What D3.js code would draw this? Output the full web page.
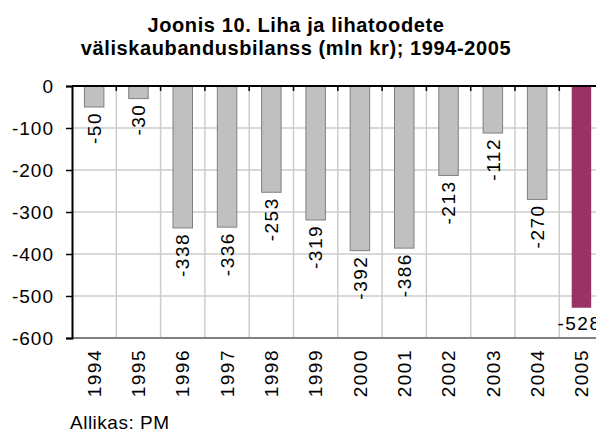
<!DOCTYPE html>
<html>
<head>
<meta charset="utf-8">
<script src="https://cdn.jsdelivr.net/npm/d3@7"></script>
<style>
body { margin: 0; background: #fff; }
svg text { font-family: "Liberation Sans", Arial, sans-serif; fill: #000; }
</style>
</head>
<body>
<script>
// Liha ja lihatoodete väliskaubandusbilanss, mln kr
const years = ["1994", "1995", "1996", "1997", "1998", "1999", "2000", "2001", "2002", "2003", "2004", "2005"];
const balance = [-50, -30, -338, -336, -253, -319, -392, -386, -213, -112, -270, -528];
const yTicks = [0, -100, -200, -300, -400, -500, -600];
const titleLines = ["Joonis 10. Liha ja lihatoodete", "väliskaubandusbilanss (mln kr); 1994-2005"];
const source = "Allikas: PM";

function draw() {
const width = 596;
const height = 434;
const left = 72, top = 86, bottom = 338;
const step = 44.3;

const svg = d3.select("body")
	.append("svg")
	.attr("width", width)
	.attr("height", height);

const x = d3.scaleBand()
	.domain(years)
	.range([left, left + step * years.length])
	.paddingInner(0.56)
	.paddingOuter(0.28);

const y = d3.scaleLinear()
	.domain([-600, 0])
	.range([bottom, top]);

// title
svg.selectAll("text.title")
	.data(titleLines)
	.enter()
	.append("text")
	.attr("class", "title")
	.attr("x", 296)
	.attr("y", (d, i) => 32 + i * 23)
	.attr("text-anchor", "middle")
	.style("font-size", "20px")
	.style("letter-spacing", "0.6px")
	.style("font-weight", "bold")
	.text(d => d);

// grid
const bounds = years.map(d => x(d) - x.step() * 0.28);
bounds.push(left + step * years.length);

svg.append("g")
	.selectAll("line")
	.data(yTicks.filter(d => d < 0 && d > -600))
	.enter()
	.append("line")
	.attr("x1", left).attr("x2", width)
	.attr("y1", d => y(d)).attr("y2", d => y(d))
	.attr("stroke", "#cccccc").attr("stroke-width", 1.5);

svg.append("g")
	.selectAll("line")
	.data(bounds.slice(1))
	.enter()
	.append("line")
	.attr("x1", d => d).attr("x2", d => d)
	.attr("y1", top).attr("y2", bottom)
	.attr("stroke", "#cccccc").attr("stroke-width", 1.5);

// bars
svg.append("g")
	.selectAll("rect")
	.data(balance)
	.enter()
	.append("rect")
	.attr("x", (d, i) => x(years[i]))
	.attr("y", y(0))
	.attr("width", x.bandwidth())
	.attr("height", d => y(d) - y(0))
	.attr("fill", (d, i) => i === years.length - 1 ? "#993366" : "#c0c0c0")
	.attr("stroke", (d, i) => i === years.length - 1 ? "none" : "#808080")
	.attr("stroke-width", 1);

// bottom line
svg.append("line")
	.attr("x1", left).attr("x2", width)
	.attr("y1", bottom).attr("y2", bottom)
	.attr("stroke", "#808080").attr("stroke-width", 2);

// zero line with ticks
svg.append("line")
	.attr("x1", left).attr("x2", width)
	.attr("y1", y(0)).attr("y2", y(0))
	.attr("stroke", "#000").attr("stroke-width", 2);

svg.append("g")
	.selectAll("line")
	.data(bounds.slice(1))
	.enter()
	.append("line")
	.attr("x1", d => d).attr("x2", d => d)
	.attr("y1", y(0)).attr("y2", y(0) + 5)
	.attr("stroke", "#000").attr("stroke-width", 1.5);

// y axis
const yAxis = d3.axisLeft(y)
	.tickValues(yTicks)
	.tickSize(6)
	.tickPadding(12)
	.tickFormat(d3.format("d"));

const ya = svg.append("g")
	.attr("transform", "translate(" + left + ",0)")
	.call(yAxis);
ya.select(".domain").attr("stroke", "#000").attr("stroke-width", 2);
ya.selectAll(".tick line").attr("stroke", "#000").attr("stroke-width", 1.5);
ya.selectAll(".tick text")
	.style("font-size", "19px")
	.style("letter-spacing", "1px")
	.attr("font-family", null)
	.text(d => d === 0 ? "0" : "-" + Math.abs(d));

// year labels
svg.append("g")
	.selectAll("text")
	.data(years)
	.enter()
	.append("text")
	.attr("transform", d => "translate(" + (x(d) + x.bandwidth() / 2) + ",349) rotate(-90)")
	.attr("dy", "0.35em")
	.attr("text-anchor", "end")
	.style("font-size", "19px")
	.style("letter-spacing", "1.5px")
	.text(d => d);

// value labels
svg.append("g")
	.selectAll("text")
	.data(balance)
	.enter()
	.append("text")
	.attr("transform", (d, i) => {
		const cx = x(years[i]) + x.bandwidth() / 2;
		if (i === years.length - 1) return "translate(" + (cx - 2) + "," + (y(d) + 22) + ")";
		return "translate(" + cx + "," + (y(d) + 5) + ") rotate(-90)";
	})
	.attr("dy", (d, i) => i === years.length - 1 ? null : "0.35em")
	.attr("text-anchor", (d, i) => i === years.length - 1 ? "middle" : "end")
	.style("font-size", "19px")
	.style("letter-spacing", "1.5px")
	.text(d => "-" + Math.abs(d));

// source
svg.append("text")
	.attr("x", 70)
	.attr("y", 429)
	.style("font-size", "19px")
	.style("letter-spacing", "0.5px")
	.text(source);
}
window.onload = draw;
</script>
</body>
</html>
